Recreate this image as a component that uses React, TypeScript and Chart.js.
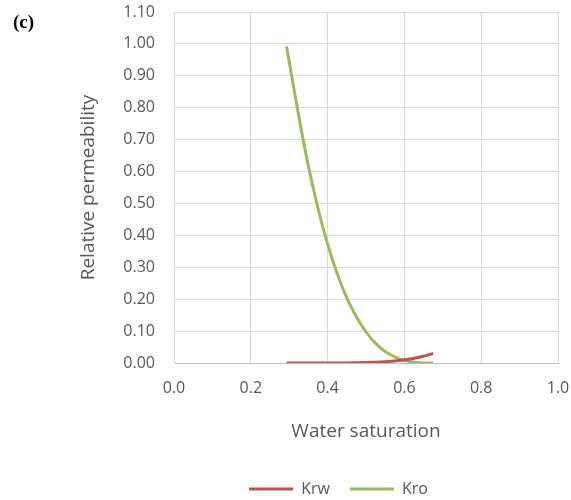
import { useEffect, useRef } from "react";
import { Chart, registerables } from "chart.js";

Chart.register(...registerables);

const seriesNames = ["Krw", "Kro"];

const krwSw = [0.293, 0.35, 0.4, 0.45, 0.5, 0.54, 0.58, 0.62, 0.65, 0.675];
const krwValues = [0, 0.00001, 0.00005, 0.0003, 0.0014, 0.0034, 0.0072, 0.0135, 0.021, 0.03];

const kroSw = [0.293, 0.31, 0.33, 0.35, 0.37, 0.39, 0.41, 0.43, 0.45, 0.47, 0.49, 0.51, 0.53, 0.55, 0.57, 0.59, 0.61, 0.63, 0.65, 0.675];
const kroValues = [0.993, 0.875, 0.74, 0.617, 0.51, 0.415, 0.334, 0.264, 0.204, 0.156, 0.115, 0.082, 0.056, 0.036, 0.022, 0.0115, 0.005, 0.0017, 0.0003, 0];

const xTickValues = [0, 0.2, 0.4, 0.6, 0.8, 1.0];
const yTickValues = [0, 0.1, 0.2, 0.3, 0.4, 0.5, 0.6, 0.7, 0.8, 0.9, 1.0, 1.1];

const FONT = "'Open Sans', 'DejaVu Sans', sans-serif";
const TEXT = "#595959";
const GRID = "#D9D9D9";

const legendShift = {
  id: "legendShift",
  afterLayout(chart: any) {
    if (chart.legend) {
      chart.legend.left += 53;
      chart.legend.right += 53;
    }
  },
};

export default function App() {
  const ref = useRef<HTMLCanvasElement | null>(null);

  useEffect(() => {
    if (!ref.current) return;
    const chart = new Chart(ref.current, {
      type: "line",
      plugins: [legendShift],
      data: {
        datasets: [
          {
            label: seriesNames[0],
            data: krwSw.map((x, i) => ({ x, y: krwValues[i] })),
            borderColor: "#C0504D",
            backgroundColor: "#C0504D",
            borderWidth: 3,
            pointRadius: 0,
            cubicInterpolationMode: "monotone",
          },
          {
            label: seriesNames[1],
            data: kroSw.map((x, i) => ({ x, y: kroValues[i] })),
            borderColor: "#9BBB59",
            backgroundColor: "#9BBB59",
            borderWidth: 3,
            pointRadius: 0,
            cubicInterpolationMode: "monotone",
          },
        ],
      },
      options: {
        animation: false,
        responsive: true,
        maintainAspectRatio: false,
        layout: { padding: { top: 0, right: 0, left: 0, bottom: -7 } },
        plugins: {
          legend: {
            position: "bottom",
            labels: {
              usePointStyle: true,
              pointStyle: "line",
              pointStyleWidth: 44,
              padding: 20,
              color: TEXT,
              font: { family: FONT, size: 16 },
            },
          },
          tooltip: { enabled: false },
        },
        scales: {
          x: {
            type: "linear",
            min: 0,
            max: 1,
            afterBuildTicks: (s: any) => {
              s.ticks = xTickValues.map((v) => ({ value: v }));
            },
            ticks: {
              padding: 16,
              color: TEXT,
              font: { family: FONT, size: 16 },
              callback: (v: any) => Number(v).toFixed(1),
            },
            grid: { color: GRID, drawTicks: false },
            border: { color: "#BFBFBF" },
            title: {
              display: true,
              text: "Water saturation",
              color: TEXT,
              font: { family: FONT, size: 19 },
              padding: { top: 0, bottom: 18 },
            },
            afterFit: (s: any) => {
              s.height = 98;
              s.paddingLeft = 0;
              s.paddingRight = 13;
            },
          },
          y: {
            min: 0,
            max: 1.1,
            afterBuildTicks: (s: any) => {
              s.ticks = yTickValues.map((v) => ({ value: v }));
            },
            ticks: {
              padding: 19,
              color: TEXT,
              font: { family: FONT, size: 16 },
              callback: (v: any) => Number(v).toFixed(2),
            },
            grid: { color: GRID, drawTicks: false },
            border: { color: GRID },
            title: {
              display: true,
              text: "Relative permeability",
              color: TEXT,
              font: { family: FONT, size: 19 },
              padding: { top: 77, bottom: 0 },
            },
            afterFit: (s: any) => {
              s.width = 174;
              s.paddingTop = 12;
              s.paddingBottom = 0;
            },
          },
        },
      },
    });
    return () => chart.destroy();
  }, []);

  return (
    <div style={{ position: "absolute", left: 0, top: 0, width: 571, height: 500 }}>
      <div
        style={{
          position: "absolute",
          left: 13,
          top: 11,
          fontFamily: "'Liberation Serif', 'Times New Roman', serif",
          fontWeight: "bold",
          fontSize: 19,
          lineHeight: "22px",
          color: "#000",
        }}
      >
        (c)
      </div>
      <canvas ref={ref} style={{ width: 571, height: 500 }} />
    </div>
  );
}
